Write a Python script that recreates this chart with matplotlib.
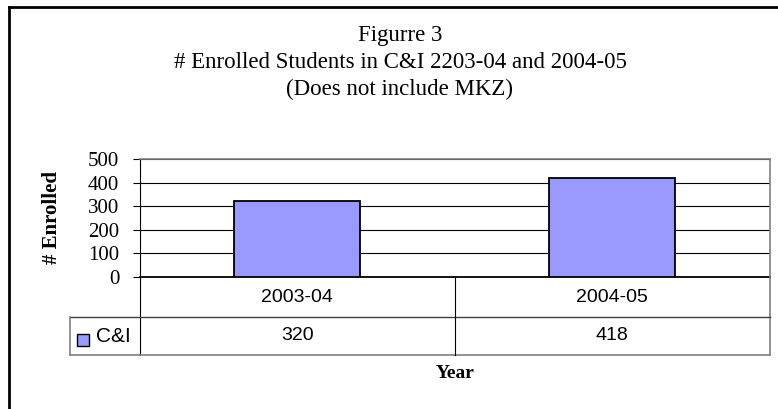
import matplotlib.pyplot as plt
import matplotlib.transforms as mtransforms
from matplotlib.patches import Rectangle

# data
years = ["2003-04", "2004-05"]
enrolled = [320, 418]
series_name = "C&I"
yticks = [0, 100, 200, 300, 400, 500]
title_lines = ["Figurre 3",
               "# Enrolled Students in C&I 2203-04 and 2004-05",
               "(Does not include MKZ)"]

W, H = 778, 409
serif = "Liberation Serif"
sans = "Liberation Sans"
bar_color = "#9999FF"

fig = plt.figure(figsize=(W / 100, H / 100), dpi=100)

# plot area in pixels
x0, x1 = 140, 769.5
ytop, ybot = 159, 277
ax = fig.add_axes([x0 / W, 1 - ybot / H, (x1 - x0) / W, (ybot - ytop) / H])

xs = list(range(len(years)))
ax.bar(xs, enrolled, width=0.4, color=bar_color, edgecolor="black", linewidth=1.3, zorder=3)
ax.set_xlim(-0.5, len(years) - 0.5)
ax.set_ylim(0, 500)
ax.set_yticks(yticks)
ax.set_yticklabels([str(t) for t in yticks], fontfamily=serif, fontsize=15)
ax.tick_params(axis="y", length=5, width=0.8, pad=10, direction="out")
ax.set_xticks([])
ax.yaxis.grid(True, color="black", linewidth=0.8, zorder=0)
ax.set_axisbelow(True)
for s in ["top", "right"]:
    ax.spines[s].set_color("#808080")
    ax.spines[s].set_linewidth(1.2)
ax.spines["left"].set_color("black")
ax.spines["left"].set_linewidth(0.8)
ax.spines["bottom"].set_color("black")
ax.spines["bottom"].set_linewidth(1.3)

ax.set_ylabel("# Enrolled", fontfamily=serif, fontsize=15, fontweight="bold", labelpad=19)

# data table under the plot
def fy(py):
    return 1 - py / H

def fx(px):
    return px / W

trans = mtransforms.blended_transform_factory(ax.transData, fig.transFigure)
row1, row2, row3 = 277, 317, 355
leg_x = 70

lc = "#404040"
def fline(xa, xb, ya, yb, color=lc, lw=1.0):
    fig.add_artist(plt.Line2D([fx(xa), fx(xb)], [fy(ya), fy(yb)], color=color,
                              linewidth=lw, transform=fig.transFigure))

fline(x0, x0, row1, row3, "black", 0.8)
fline(x1, x1, row1, row3, "#808080", 1.2)
fline(leg_x, x1, row2, row2)
fline(leg_x, x1, row3, row3, "#808080", 1.2)
fline(leg_x, leg_x, row2, row3, "#808080", 1.2)
for i in range(1, len(years)):
    b = i - 0.5
    fig.add_artist(plt.Line2D([b, b], [fy(row1), fy(row3)], color="black",
                              linewidth=0.8, transform=trans))

for i, (yr, v) in enumerate(zip(years, enrolled)):
    fig.text(i, fy((row1 + row2) / 2), yr, transform=trans, ha="center", va="center",
             fontfamily=sans, fontsize=14)
    fig.text(i, fy((row2 + row3) / 2), str(v), transform=trans, ha="center", va="center",
             fontfamily=sans, fontsize=14)

# legend key in table
fig.add_artist(Rectangle((fx(77), fy(346)), 12 / W, 12 / H, facecolor=bar_color,
                         edgecolor="black", linewidth=1.0, transform=fig.transFigure))
fig.text(fx(96), fy((row2 + row3) / 2 + 1), series_name, ha="left", va="center",
         fontfamily=sans, fontsize=15)

fig.text(fx((x0 + x1) / 2), fy(374), "Year", ha="center", va="center",
         fontfamily=serif, fontsize=14, fontweight="bold")

# title
for k, line in enumerate(title_lines):
    fig.text(fx(400), fy(41 + 27 * k), line, ha="center", va="baseline",
             fontfamily=serif, fontsize=16.5)

# outer chart border (right and bottom edges lie outside the image)
fig.add_artist(plt.Line2D([fx(8.5), fx(8.5)], [fy(H + 2), fy(7)], color="black",
                          linewidth=2, transform=fig.transFigure))
fig.add_artist(plt.Line2D([fx(8.5), fx(W + 2)], [fy(7), fy(7)], color="black",
                          linewidth=2, transform=fig.transFigure))

fig.savefig("out.png", dpi=100)
